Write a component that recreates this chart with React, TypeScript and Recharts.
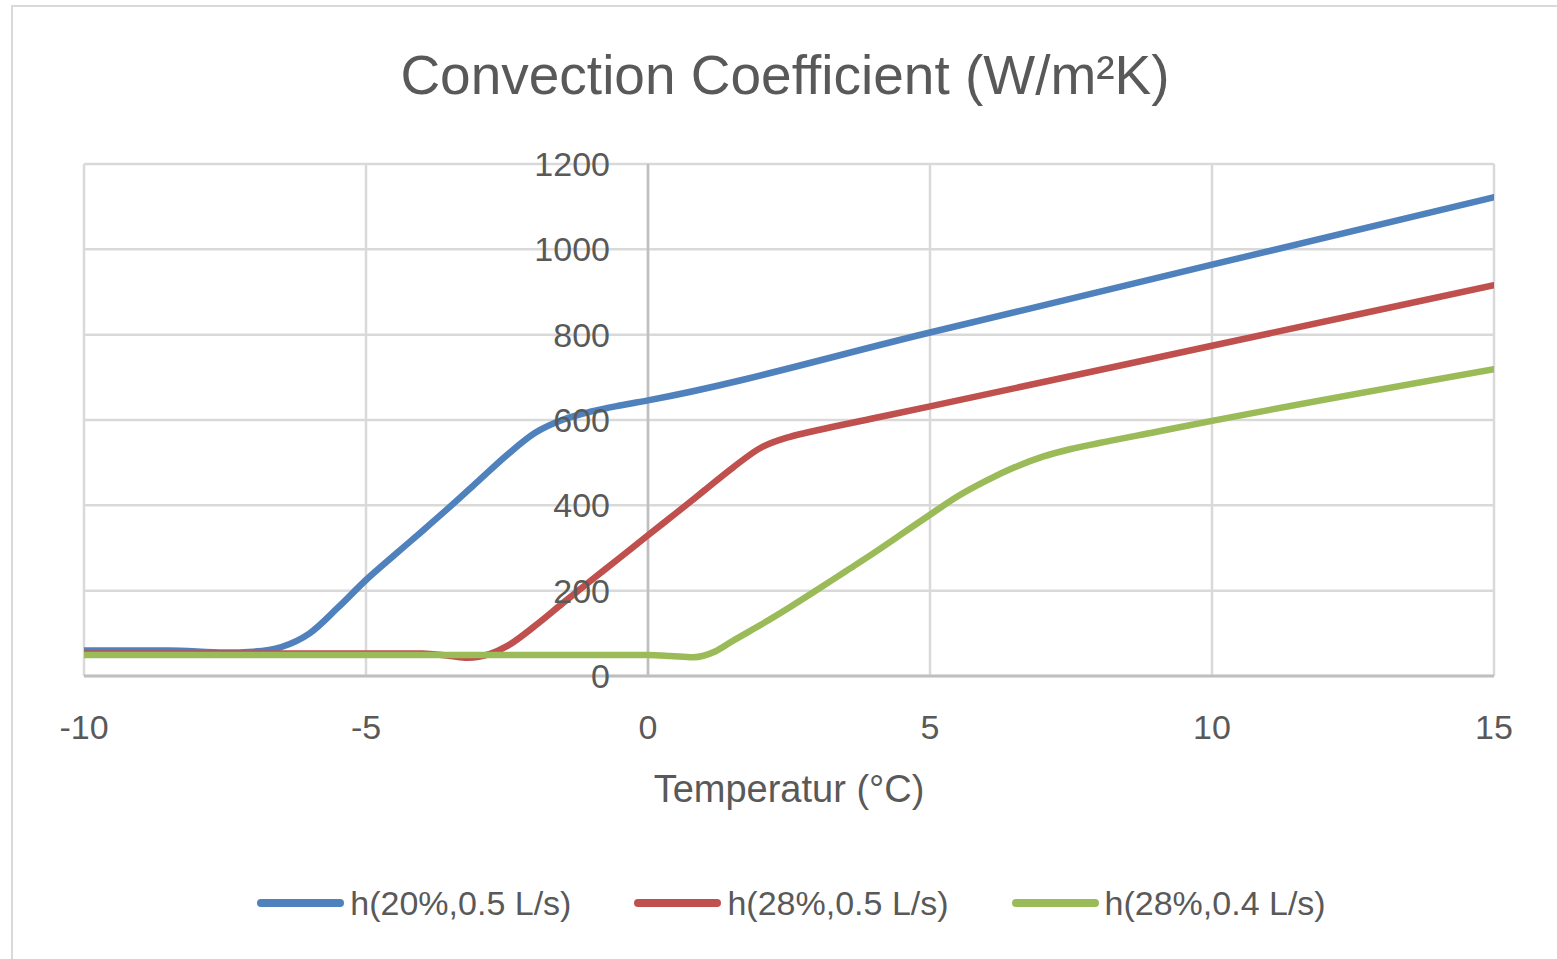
import { LineChart, Line, XAxis, YAxis, CartesianGrid, Legend, ReferenceLine, ReferenceDot } from 'recharts';

const xTicks = [-10, -5, 0, 5, 10, 15];
const yTicks = [0, 200, 400, 600, 800, 1000, 1200];

// h(20%,0.5 L/s)
const blueTemp = [-10, -8.5, -7.5, -7, -6.5, -6, -5.5, -5, -4.5, -4, -3.5, -3, -2.5, -2, -1.5, -1, -0.5, 0, 5, 10, 15];
const blueH = [60, 60, 55, 57, 68, 100, 160, 225, 283, 340, 398, 458, 518, 570, 601, 620, 634, 646, 805, 964, 1122];

// h(28%,0.5 L/s)
const redTemp = [-10, -4, -3.5, -3.2, -2.8, -2.5, -2, -1.5, -1, -0.5, 0, 0.5, 1, 1.5, 2, 2.5, 3, 4, 5, 10, 15];
const redH = [53, 53, 47, 43, 52, 70, 118, 172, 225, 277, 330, 382, 435, 488, 535, 560, 576, 604, 632, 774, 916];

// h(28%,0.4 L/s)
const greenTemp = [-10, 0, 0.4, 0.8, 1.2, 1.5, 2, 2.5, 3, 3.5, 4, 4.5, 5, 5.5, 6, 6.5, 7, 7.5, 8, 9, 10, 15];
const greenH = [49, 49, 47, 44, 58, 82, 120, 160, 202, 245, 288, 333, 378, 422, 458, 489, 514, 532, 546, 572, 598, 719];

const seriesNames = ['h(20%,0.5 L/s)', 'h(28%,0.5 L/s)', 'h(28%,0.4 L/s)'];
const seriesColors = ['#4F81BD', '#C0504D', '#9BBB59'];

const toRows = (temps: number[], vals: number[]) => temps.map((t, i) => ({ t, h: vals[i] }));

const series = [
  toRows(blueTemp, blueH),
  toRows(redTemp, redH),
  toRows(greenTemp, greenH),
];

const textColor = '#595959';

const renderLegend = () => (
  <div style={{ display: 'flex', justifyContent: 'center', alignItems: 'center', height: 56, paddingLeft: 5 }}>
    {seriesNames.map((name, i) => (
      <div key={name} style={{ display: 'flex', alignItems: 'center', marginRight: i < seriesNames.length - 1 ? 63 : 0 }}>
        <svg width={87} height={10}>
          <line x1={4} y1={5} x2={83} y2={5} stroke={seriesColors[i]} strokeWidth={8} strokeLinecap="round" />
        </svg>
        <span style={{ marginLeft: 6, fontSize: 34, color: textColor, lineHeight: '40px' }}>{name}</span>
      </div>
    ))}
  </div>
);

export default function App() {
  return (
    <div
      style={{
        position: 'absolute',
        left: 11,
        top: 5,
        width: 1544,
        height: 952,
        borderTop: '2px solid #d9d9d9',
        borderLeft: '2px solid #d9d9d9',
        background: '#fff',
        fontFamily: '"Liberation Sans", Arial, sans-serif',
      }}
    >
      <div
        style={{
          position: 'absolute',
          left: 0,
          top: 41,
          width: 1544,
          textAlign: 'center',
          fontSize: 55,
          lineHeight: '55px',
          color: textColor,
        }}
      >
        Convection Coefficient (W/m²K)
      </div>
      <LineChart width={1544} height={950} margin={{ top: 157, right: 63, bottom: 26, left: 71 }}>
        <CartesianGrid stroke="#d9d9d9" strokeWidth={2.5} />
        <XAxis
          type="number"
          dataKey="t"
          domain={[-10, 15]}
          ticks={xTicks}
          allowDataOverflow
          height={199}
          tickLine={false}
          tickSize={6}
          tickMargin={33}
          axisLine={{ stroke: '#bfbfbf', strokeWidth: 3 }}
          tick={{ fill: textColor, fontSize: 34 }}
          label={{ value: 'Temperatur (°C)', position: 'insideTop', offset: 99, fill: textColor, fontSize: 38 }}
        />
        <YAxis hide type="number" domain={[0, 1200]} ticks={yTicks} allowDataOverflow />
        <ReferenceLine x={0} stroke="#bfbfbf" strokeWidth={2.5} />
        {series.map((rows, i) => (
          <Line
            key={seriesNames[i]}
            data={rows}
            dataKey="h"
            name={seriesNames[i]}
            type="monotone"
            stroke={seriesColors[i]}
            strokeWidth={6.5}
            strokeLinecap="round"
            dot={false}
            activeDot={false}
            isAnimationActive={false}
          />
        ))}
        {yTicks.map((v) => (
          <ReferenceDot
            key={v}
            x={0}
            y={v}
            r={0}
            fill="none"
            stroke="none"
            label={{ value: v, position: 'left', offset: 38, fill: textColor, fontSize: 34 }}
          />
        ))}
        <Legend verticalAlign="bottom" content={renderLegend} />
      </LineChart>
    </div>
  );
}
